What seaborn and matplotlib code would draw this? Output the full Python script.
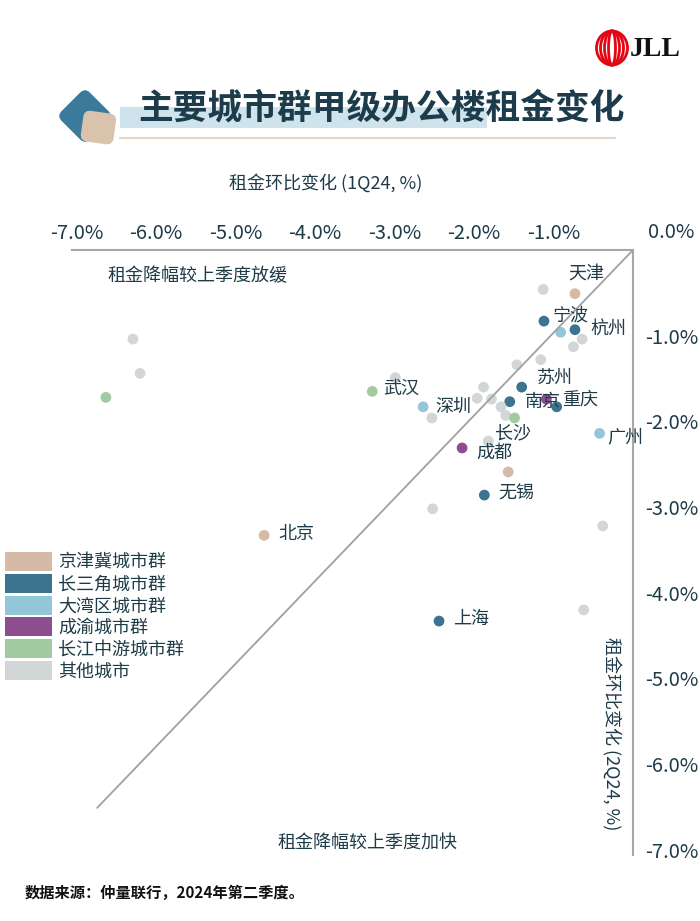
"""Grade-A office rent change by city cluster, 1Q24 vs 2Q24."""

import matplotlib

matplotlib.use("Agg")
import matplotlib.pyplot as plt
import pandas as pd
import seaborn as sns
from matplotlib.patches import Ellipse, FancyBboxPatch, Patch, Rectangle
from matplotlib.transforms import Affine2D

# ---- data ----
cities = [
    "", "天津", "宁波", "", "杭州", "", "", "", "", "苏州", "", "", "",
    "南京", "重庆", "", "", "", "长沙", "广州", "深圳", "", "", "成都",
    "", "无锡", "", "武汉", "", "北京", "上海", "", "", "", "", "",
]
groups = [
    "其他城市", "京津冀城市群", "长三角城市群", "大湾区城市群", "长三角城市群",
    "其他城市", "其他城市", "其他城市", "其他城市", "长三角城市群", "其他城市",
    "其他城市", "其他城市", "长三角城市群", "成渝城市群", "长三角城市群",
    "其他城市", "其他城市", "长江中游城市群", "大湾区城市群", "大湾区城市群",
    "其他城市", "其他城市", "成渝城市群", "京津冀城市群", "长三角城市群",
    "其他城市", "长江中游城市群", "其他城市", "京津冀城市群", "长三角城市群",
    "其他城市", "其他城市", "其他城市", "其他城市", "长江中游城市群",
]
change_1q24 = [
    -1.13, -0.73, -1.12, -0.91, -0.73, -0.64, -0.75, -1.16, -1.46, -1.40,
    -1.88, -1.96, -1.78, -1.55, -1.09, -0.96, -1.66, -1.60, -1.49, -0.42,
    -2.64, -2.53, -1.82, -2.15, -1.57, -1.87, -2.52, -3.28, -2.99, -4.64,
    -2.44, -0.38, -0.62, -6.29, -6.20, -6.63,
]
change_2q24 = [
    -0.46, -0.51, -0.83, -0.96, -0.93, -1.04, -1.13, -1.28, -1.34, -1.60,
    -1.60, -1.73, -1.74, -1.77, -1.74, -1.83, -1.83, -1.93, -1.96, -2.14,
    -1.83, -1.96, -2.23, -2.31, -2.59, -2.86, -3.02, -1.65, -1.49, -3.33,
    -4.33, -3.22, -4.20, -1.04, -1.44, -1.72,
]
group_order = ["京津冀城市群", "长三角城市群", "大湾区城市群", "成渝城市群", "长江中游城市群", "其他城市"]
group_colors = ["#D5BAA7", "#3C7490", "#94C6D9", "#8C4E8E", "#A2CAA0", "#D2D6D7"]
x_ticks = [-7, -6, -5, -4, -3, -2, -1]
y_ticks = [-1, -2, -3, -4, -5, -6, -7]
diag_x = [0, -6.74]
diag_y = [0, -6.51]

# label offsets in pixels (right, up) from each city's dot
label_offsets = {
    "天津": (-7, 19), "宁波": (9, 6), "杭州": (15, 1), "苏州": (15, 9),
    "南京": (15, 0), "重庆": (16, -1), "武汉": (11, 2), "深圳": (12, 0),
    "广州": (8, -4), "长沙": (-20, -15), "成都": (14, -5), "无锡": (14, 1),
    "北京": (14, 1), "上海": (14, 2),
}

TEXT = "#1E3B48"
SPINE = "#A8A8A8"

sns.set_style("white")
plt.rcParams["font.family"] = ["Noto Sans CJK SC", "DejaVu Sans"]

df = pd.DataFrame({"city": cities, "group": groups, "q1": change_1q24, "q2": change_2q24})

fig = plt.figure(figsize=(7, 9.21), dpi=100)

# decoration layer in pixel coordinates (y down)
deco = fig.add_axes([0, 0, 1, 1])
deco.set_xlim(0, 700)
deco.set_ylim(921, 0)
deco.axis("off")

# JLL logo
for w in [31, 23, 15, 7]:
    deco.add_patch(Ellipse((612, 48), w, 34, fill=False, edgecolor="#E30613", lw=2.0))
deco.text(655, 49, "JLL", family="Liberation Serif", fontweight="bold", fontsize=20,
          ha="center", va="center", color="#111111")

# title block
teal_box = FancyBboxPatch((65, 96), 40, 40, boxstyle="round,pad=0,rounding_size=7",
                          facecolor="#3C7A9B", edgecolor="none")
teal_box.set_transform(Affine2D().rotate_deg_around(85, 116, 45) + deco.transData)
deco.add_patch(teal_box)
tan_box = FancyBboxPatch((82, 112), 33, 31, boxstyle="round,pad=0,rounding_size=7",
                         facecolor="#D9C3AC", edgecolor="none")
tan_box.set_transform(Affine2D().rotate_deg_around(98, 127, 8) + deco.transData)
deco.add_patch(tan_box)
deco.add_patch(Rectangle((120, 107), 367, 21, facecolor="#CFE3EC", edgecolor="none"))
deco.plot([120, 615], [138, 138], color="#E6D6C4", lw=1.6)
deco.text(381, 108, "主要城市群甲级办公楼租金变化", ha="center", va="center",
          fontsize=25, fontweight="bold", color="#1C3B4B")

deco.text(326, 184, "租金环比变化 (1Q24, %)", ha="center", va="center", fontsize=13, color=TEXT)
deco.text(671, 232, "0.0%", ha="center", va="center", fontsize=14.5, color=TEXT)
deco.text(107, 276, "租金降幅较上季度放缓", ha="left", va="center", fontsize=13, color=TEXT)
deco.text(278, 843, "租金降幅较上季度加快", ha="left", va="center", fontsize=13, color=TEXT)
deco.text(611, 734, "租金环比变化 (2Q24, %)", ha="center", va="center", rotation=-90,
          fontsize=13, color=TEXT)
deco.text(25, 893, "数据来源：仲量联行，2024年第二季度。", ha="left", va="center",
          fontsize=11, color="#111111", fontweight="bold")

# main scatter
ax = fig.add_axes([71.7 / 700, 66 / 921, 561.3 / 700, 605 / 921])
ax.patch.set_alpha(0)
sns.scatterplot(data=df, x="q1", y="q2", hue="group", hue_order=group_order,
                palette=group_colors, s=60, linewidth=0, legend=False, ax=ax, zorder=2)
ax.plot(diag_x, diag_y, color="#A0A0A0", lw=1.3, zorder=3)

for _, row in df[df["city"] != ""].iterrows():
    dx, dy = label_offsets[row["city"]]
    ax.annotate(row["city"], (row["q1"], row["q2"]), xytext=(dx, dy),
                textcoords="offset pixels", ha="left", va="center",
                fontsize=13, color=TEXT, zorder=4)

ax.set_xlim(-7.06, 0)
ax.set_ylim(-7.06, 0)
ax.xaxis.tick_top()
ax.yaxis.tick_right()
ax.set_xticks(x_ticks)
ax.set_xticklabels([f"{v:.1f}%" for v in x_ticks])
ax.set_yticks(y_ticks)
ax.set_yticklabels([f"{v:.1f}%" for v in y_ticks])
ax.tick_params(axis="both", length=0, labelsize=14.5, colors=TEXT)
ax.tick_params(axis="x", pad=4)
ax.tick_params(axis="y", pad=9)
ax.set_xlabel("")
ax.set_ylabel("")
for side in ["left", "bottom"]:
    ax.spines[side].set_visible(False)
for side in ["top", "right"]:
    ax.spines[side].set_color(SPINE)
    ax.spines[side].set_linewidth(1.5)

handles = [Patch(facecolor=c, edgecolor="none") for c in group_colors]
leg = ax.legend(handles, group_order, loc="upper left", bbox_to_anchor=(5 / 700, 1 - 552 / 921),
                bbox_transform=fig.transFigure, frameon=False, fontsize=13,
                handlelength=2.6, handleheight=1.25, labelspacing=0.12,
                handletextpad=0.35, borderpad=0, borderaxespad=0)
for t in leg.get_texts():
    t.set_color(TEXT)

fig.savefig("out.png", dpi=100)
plt.close(fig)
